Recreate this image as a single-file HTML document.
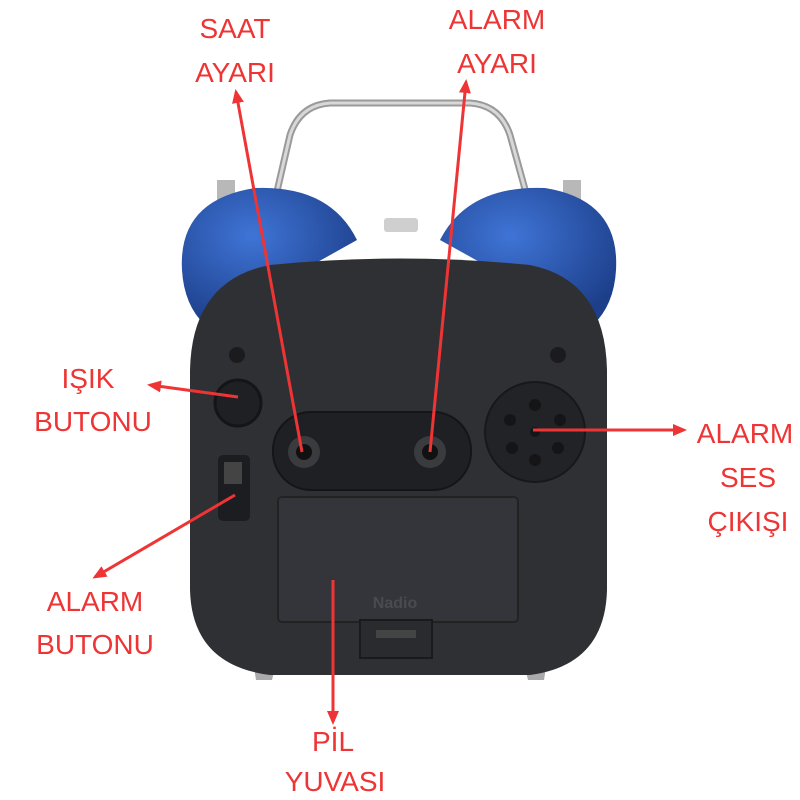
<!DOCTYPE html>
<html><head><meta charset="utf-8"><style>
html,body{margin:0;padding:0;background:#fff;}
svg{display:block}
text{font-family:"Liberation Sans",sans-serif;font-size:28px;fill:#ee3434;text-anchor:middle}
</style></head><body>
<svg width="800" height="800" viewBox="0 0 800 800" xmlns="http://www.w3.org/2000/svg">
<defs>
<marker id="ah" markerWidth="14" markerHeight="14" refX="11" refY="7" orient="auto" markerUnits="userSpaceOnUse">
<path d="M0,1 L14,7 L0,13 Z" fill="#ee3434"/></marker>
<radialGradient id="bl" cx="40%" cy="35%" r="70%"><stop offset="0" stop-color="#3f74d6"/><stop offset="1" stop-color="#1d3f8a"/></radialGradient>
</defs>
<path d="M275,200 L290,135 Q300,105 330,103 L470,103 Q500,105 510,135 L528,200" fill="none" stroke="#9a9a9a" stroke-width="7"/>
<path d="M275,200 L290,135 Q300,105 330,103 L470,103 Q500,105 510,135 L528,200" fill="none" stroke="#d8d8d8" stroke-width="3"/>
<rect x="217" y="180" width="18" height="22" fill="#b8b8b8"/>
<rect x="563" y="180" width="18" height="22" fill="#b8b8b8"/>
<rect x="384" y="218" width="34" height="14" rx="3" fill="#cfcfcf"/>
<path d="M182,270 Q178,200 255,188 Q330,185 357,240 L205,325 Q184,305 182,270 Z" fill="url(#bl)"/>
<path d="M440,240 Q468,185 545,188 Q620,200 616,270 Q614,305 593,325 Z" fill="url(#bl)"/>
<path d="M252,655 L278,655 L272,680 L256,680 Z" fill="#aaa"/>
<path d="M522,655 L548,655 L544,680 L528,680 Z" fill="#aaa"/>
<path d="M270,265 Q400,252 530,265 Q605,280 607,370 L607,590 Q605,665 530,675 L270,675 Q192,665 190,590 L190,370 Q192,280 270,265 Z" fill="#2f3034"/>
<circle cx="237" cy="355" r="8" fill="#1b1b1d"/>
<circle cx="558" cy="355" r="8" fill="#1b1b1d"/>
<circle cx="238" cy="403" r="23" fill="#1f2023" stroke="#151517" stroke-width="3"/>
<rect x="273" y="412" width="198" height="78" rx="38" fill="#1f2023" stroke="#151517" stroke-width="2"/>
<circle cx="304" cy="452" r="16" fill="#3a3b3f"/><circle cx="304" cy="452" r="8" fill="#111"/>
<circle cx="430" cy="452" r="16" fill="#3a3b3f"/><circle cx="430" cy="452" r="8" fill="#111"/>
<circle cx="535" cy="432" r="50" fill="#222326" stroke="#18181a" stroke-width="2"/>
<g fill="#151517">
<circle cx="535" cy="405" r="6"/><circle cx="560" cy="420" r="6"/><circle cx="558" cy="448" r="6"/><circle cx="535" cy="460" r="6"/><circle cx="512" cy="448" r="6"/><circle cx="510" cy="420" r="6"/><circle cx="535" cy="432" r="5"/></g>
<rect x="218" y="455" width="32" height="66" rx="5" fill="#1c1d20"/>
<rect x="224" y="462" width="18" height="22" fill="#444"/>
<rect x="278" y="497" width="240" height="125" rx="4" fill="#34353a" stroke="#222" stroke-width="2"/>
<text x="395" y="608" style="font-size:16px;fill:#4a4b50;font-weight:bold">Nadio</text>
<path d="M360,620 L432,620 L432,658 L360,658 Z" fill="#2a2b2f" stroke="#1a1a1c" stroke-width="2"/>
<rect x="376" y="630" width="40" height="8" fill="#444"/>
<g stroke="#ee3434" stroke-width="3" fill="none" marker-end="url(#ah)">
<line x1="302" y1="452" x2="236" y2="92"/>
<line x1="430" y1="452" x2="466" y2="82"/>
<line x1="238" y1="397" x2="150" y2="385"/>
<line x1="533" y1="430" x2="684" y2="430"/>
<line x1="235" y1="495" x2="95" y2="577"/>
<line x1="333" y1="580" x2="333" y2="722"/>
</g>
<text x="235" y="38">SAAT</text><text x="235" y="82">AYARI</text>
<text x="497" y="29">ALARM</text><text x="497" y="73">AYARI</text>
<text x="88" y="388">IŞIK</text><text x="93" y="431">BUTONU</text>
<text x="745" y="443">ALARM</text><text x="748" y="487">SES</text><text x="748" y="531">ÇIKIŞI</text>
<text x="95" y="611">ALARM</text><text x="95" y="654">BUTONU</text>
<text x="333" y="751">PİL</text><text x="335" y="791">YUVASI</text>
</svg>
</body></html>
